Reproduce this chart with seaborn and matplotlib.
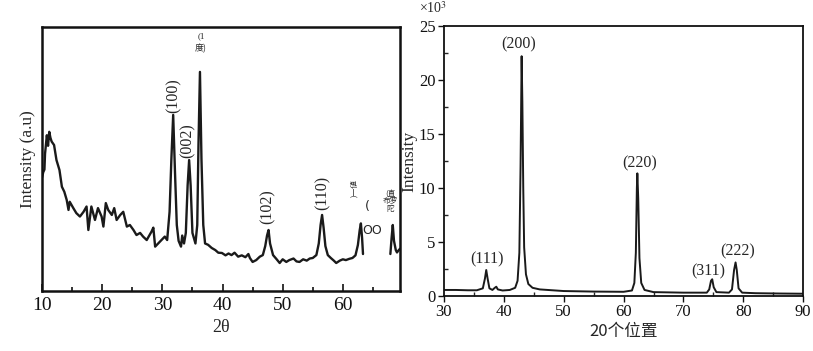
import numpy as np
import pandas as pd
import matplotlib
matplotlib.use("Agg")
import matplotlib.pyplot as plt
from matplotlib.ticker import MultipleLocator
import seaborn as sns

# ── Left pattern (arbitrary units) ──────────────────────────────────────────
left_x_a = [10.0, 10.2, 10.4, 10.5, 10.8, 11.0, 11.2, 11.4, 11.6, 12.0, 12.4, 12.9,
            13.3, 13.7, 14.1, 14.4, 14.6, 15.2, 15.7, 16.3, 16.9, 17.4, 17.7, 18.2,
            18.8, 19.3, 19.9, 20.2, 20.6, 21.0, 21.6, 22.0, 22.4, 23.0, 23.5, 24.1,
            24.6, 25.2, 25.7, 26.3, 26.8, 27.4, 28.2, 28.5, 28.8, 29.6, 30.4, 30.8,
            31.2, 31.5, 31.8, 32.1, 32.4, 32.7, 33.1, 33.3, 33.6, 33.9, 34.2, 34.45,
            34.7, 35.0, 35.5, 35.8, 36.0, 36.25, 36.5, 36.8, 37.1, 37.6, 38.2, 38.8,
            39.3, 39.9, 40.5, 41.0, 41.5, 42.0, 42.6, 43.2, 43.8, 44.3, 44.55, 45.0,
            45.6, 46.2, 46.7, 47.1, 47.4, 47.65, 47.9, 48.4, 49.0, 49.5, 50.0, 50.6,
            51.1, 51.8, 52.3, 52.8, 53.4, 54.0, 54.5, 55.0, 55.6, 56.0, 56.3, 56.55,
            56.8, 57.1, 57.5, 58.0, 58.5, 58.9, 59.5, 60.0, 60.5, 61.1, 61.6, 62.1,
            62.5, 62.8, 63.0, 63.2, 63.35]
left_y_a = [43, 45, 46, 52, 59, 55, 60.3, 58, 56.6, 55.3, 49.6, 45.8,
            39.5, 37.6, 34.5, 30.7, 33.8, 31.4, 29.5, 28.2, 30, 32, 23.1, 32,
            26.9, 31.4, 28.2, 24.4, 33.3, 30.7, 28.8, 31.4, 26.9, 28.8, 30, 24.4,
            25, 23.1, 21.2, 22, 20.6, 19.3, 22.5, 24, 16.8, 18.7, 20.6, 19.3,
            30, 50, 66.7, 45, 25, 19, 16.8, 21, 18, 22, 40, 49.6,
            40, 22, 18, 25, 55, 83, 50, 25, 18, 17.5, 16.3, 15.5,
            14.5, 14.4, 13.5, 14.2, 13.6, 14.5, 13, 13.5, 12.8, 14, 12.5, 11,
            11.7, 13, 13.6, 17, 21, 23.1, 18, 13.6, 12, 10.6, 12, 11,
            11.7, 12.3, 11.2, 11, 12, 11.5, 12.3, 12.5, 13.6, 18, 25, 28.8,
            24, 17, 13.6, 12.5, 11.5, 10.6, 11.5, 12, 11.7, 12.2, 12.5, 13.5,
            17.4, 23, 25.6, 20, 14]
left_x_b = [67.9, 68.1, 68.3, 68.5, 68.8, 69.0, 69.3, 69.5]
left_y_b = [14, 20, 25, 19, 15.5, 14.6, 15.5, 16]

left_labels = ["(100)", "(002)", "(102)", "(110)"]
left_label_x = [31.8, 34.2, 47.5, 56.7]
left_label_y = [74, 57, 32, 37]

# ── Right pattern (x10^3 counts) ────────────────────────────────────────────
right_x = [30, 32, 34, 35.5, 36.5, 36.85, 37.07, 37.3, 37.6, 38.1, 38.5, 38.75,
           39.0, 39.8, 41.0, 41.9, 42.3, 42.6, 42.8, 42.98, 43.1, 43.25, 43.4,
           43.7, 44.1, 44.8, 46, 50, 55, 60, 61.4, 61.8, 62.05, 62.22, 62.3, 62.45,
           62.65, 62.95, 63.5, 65, 70, 73.9, 74.3, 74.6, 74.8, 75.05, 75.5, 77.6,
           78.1, 78.45, 78.7, 78.9, 79.2, 79.8, 82, 86, 90]
right_y = [0.55, 0.55, 0.52, 0.52, 0.7, 1.6, 2.4, 1.6, 0.7, 0.55, 0.75, 0.85,
           0.6, 0.5, 0.55, 0.75, 1.4, 4, 12, 22.2, 18, 10, 4.5,
           2.0, 1.1, 0.75, 0.6, 0.45, 0.4, 0.38, 0.5, 1.2, 4, 10, 11.35, 9,
           3.5, 1.2, 0.55, 0.35, 0.3, 0.3, 0.6, 1.4, 1.54, 0.8, 0.35, 0.3,
           0.6, 2.4, 3.1, 2.4, 0.7, 0.3, 0.25, 0.22, 0.2]

right_labels = ["(111)", "(200)", "(220)", "(311)", "(222)"]
right_label_x = [37.2, 42.5, 62.7, 74.1, 79.1]
right_label_y = [3.4, 23.3, 12.3, 2.3, 4.1]

sns.set_theme(style="ticks")
plt.rcParams['font.family'] = ['Liberation Serif', 'Noto Sans CJK SC', 'DejaVu Sans']
plt.rcParams['mathtext.fontset'] = 'stix'

fig = plt.figure(figsize=(8.13, 3.51), dpi=100)
ax1 = fig.add_axes([0.0517, 0.171, 0.4403, 0.752])
ax2 = fig.add_axes([0.546, 0.157, 0.442, 0.769])

# left panel
ink = '#1a1a1a'
sns.lineplot(x=left_x_a, y=left_y_a, ax=ax1, color=ink, lw=1.7, estimator=None)
sns.lineplot(x=left_x_b, y=left_y_b, ax=ax1, color=ink, lw=1.7, estimator=None)
ax1.set_xlim(10, 69.5)
ax1.set_ylim(0, 100)
ax1.set_yticks([])
ax1.xaxis.set_major_locator(MultipleLocator(10))
ax1.xaxis.set_minor_locator(MultipleLocator(5))
ax1.set_xticks([10, 20, 30, 40, 50, 60])
ax1.tick_params(axis='x', which='both', direction='in', labelsize=14, width=1.2,
                colors='#111111', pad=4)
ax1.tick_params(axis='x', which='major', length=5)
ax1.tick_params(axis='x', which='minor', length=3)
for s in ax1.spines.values():
    s.set_linewidth(1.8)
    s.set_color('#111111')
ax1.set_xlabel('2θ', fontsize=13, labelpad=4)
ax1.set_ylabel('Intensity (a.u)', fontsize=12.5, labelpad=4)
for lab, x, y in zip(left_labels, left_label_x, left_label_y):
    ax1.text(x, y, lab, rotation=90, ha='center', va='center', fontsize=11.5)
ax1.text(36.4, 96.5, '(1', ha='center', va='center', fontsize=6.5)
ax1.text(36.3, 92, '度)', ha='center', va='center', fontsize=6.5,
         family=['Noto Sans CJK SC', 'DejaVu Sans'])
ax1.text(61.9, 39, ')一値', rotation=90, ha='center', va='center', fontsize=5.5,
         family=['Noto Sans CJK SC', 'DejaVu Sans'])
ax1.text(64.0, 32, '(', ha='center', va='center', fontsize=9,
         family=['DejaVu Sans'])
ax1.text(64.8, 23, 'OO', ha='center', va='center', fontsize=9,
         family=['DejaVu Sans'])
ax1.text(67.9, 34, '(直\n布罗\n陀', ha='center', va='center', fontsize=5.5,
         linespacing=1.0, family=['Noto Sans CJK SC', 'DejaVu Sans'])

# right panel
sns.lineplot(x=right_x, y=right_y, ax=ax2, color=ink, lw=1.4, estimator=None)
ax2.set_xlim(30, 90)
ax2.set_ylim(0, 25)
ax2.xaxis.set_major_locator(MultipleLocator(10))
ax2.xaxis.set_minor_locator(MultipleLocator(5))
ax2.yaxis.set_major_locator(MultipleLocator(5))
ax2.yaxis.set_minor_locator(MultipleLocator(2.5))
ax2.tick_params(axis='both', which='major', direction='out', length=4, width=1.0,
                labelsize=12, colors='#111111', pad=2)
ax2.tick_params(axis='both', which='minor', direction='in', length=3, width=1.0)
for s in ax2.spines.values():
    s.set_linewidth(1.3)
    s.set_color('#111111')
ax2.set_xlabel('20个位置', fontsize=12, labelpad=2,
               family=['Noto Sans CJK SC', 'DejaVu Sans'])
ax2.set_ylabel('Intensity', fontsize=12.5, labelpad=1)
ax2.text(-0.07, 1.065, '×10$^3$', transform=ax2.transAxes, fontsize=10,
         ha='left', va='center')
for lab, x, y in zip(right_labels, right_label_x, right_label_y):
    ax2.text(x, y, lab, ha='center', va='center', fontsize=11.5)

fig.savefig('out.png', dpi=100)
